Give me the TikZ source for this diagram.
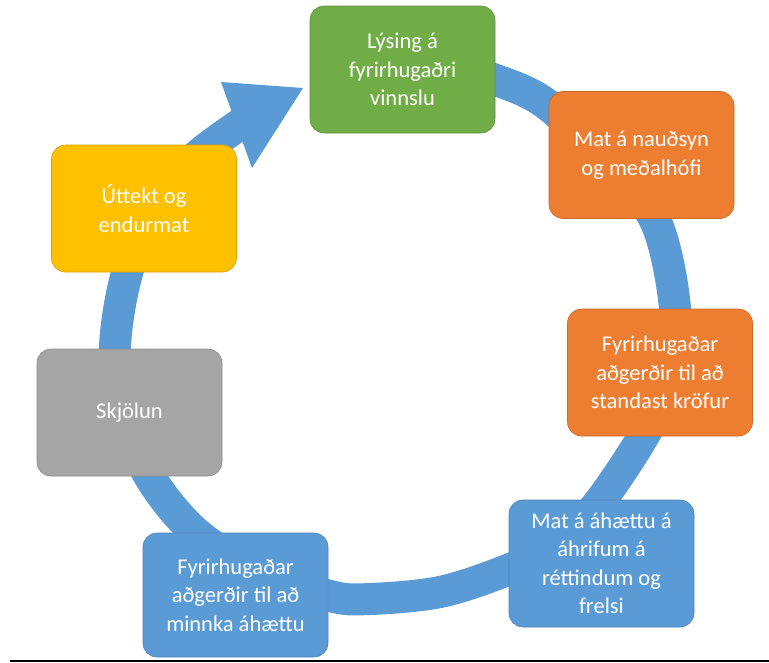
\documentclass[tikz,border=0pt]{standalone}
\usepackage{fontspec}
\setmainfont{Carlito}
\definecolor{ringblue}{HTML}{5B9BD5}
\definecolor{boxgreen}{HTML}{70AD47}
\definecolor{boxorange}{HTML}{ED7D31}
\definecolor{boxyellow}{HTML}{FFC000}
\definecolor{boxgrey}{HTML}{A5A5A5}
\definecolor{boxblue}{HTML}{5B9BD5}
\begin{document}
\begin{tikzpicture}[x=1pt,y=-1pt,
  box/.style={rounded corners=14pt, minimum width=185pt, minimum height=127pt,
    text=white, align=center, font=\fontsize{22.5}{28.5}\selectfont,
    inner sep=0pt, line width=0.6pt},
  ring/.style={draw=ringblue, line width=32pt},
  headtip/.style={fill=ringblue}]
\useasboundingbox (0,0) rectangle (769,662);
% cycle ring
\draw[ring] plot[smooth, tension=0.55] coordinates {
  (455,71) (493,79) (545,103) (605,160) (655,220) (675,308) (670,380)
  (644,435) (601,500) (560,545) (505,571) (440,592) (370,599) (330,596)
  (255,570) (195,532) (150,477) (122,410) (115,347) (127,273) (155,205)
  (195,158) (242,123)};
\coordinate (hb1) at (221,82);
\coordinate (htip) at (303,88);
\coordinate (hb2) at (252,168);
\fill[headtip] (hb1) -- (htip) -- (hb2) -- cycle;
% boxes
\node[box, fill=boxgreen, draw=boxgreen!85!black] (lys) at (402.5,69.5) {Lýsing á\\fyrirhugaðri\\vinnslu};
\node[box, fill=boxorange, draw=boxorange!85!black] (mat) at (641.5,155) {Mat á nauðsyn\\og meðalhófi};
\node[box, fill=boxorange, draw=boxorange!85!black] (stand) at (660,372.5) {Fyrirhugaðar\\aðgerðir til að\\standast kröfur};
\node[box, fill=boxblue, draw=boxblue!85!black] (ahaettu) at (601.5,563.5) {Mat á áhættu á\\áhrifum á\\réttindum og\\frelsi};
\node[box, fill=boxblue, draw=boxblue!85!black, minimum height=124pt] (minnka) at (235.5,595) {Fyrirhugaðar\\aðgerðir til að\\minnka áhættu};
\node[box, fill=boxgrey, draw=boxgrey!85!black] (skj) at (129.5,412.5) {Skjölun};
\node[box, fill=boxyellow, draw=boxyellow!85!black] (utt) at (144,208.5) {Úttekt og\\endurmat};
% bottom rule
\draw[line width=1.5pt] (10,661) -- (769,661);
\end{tikzpicture}
\end{document}
